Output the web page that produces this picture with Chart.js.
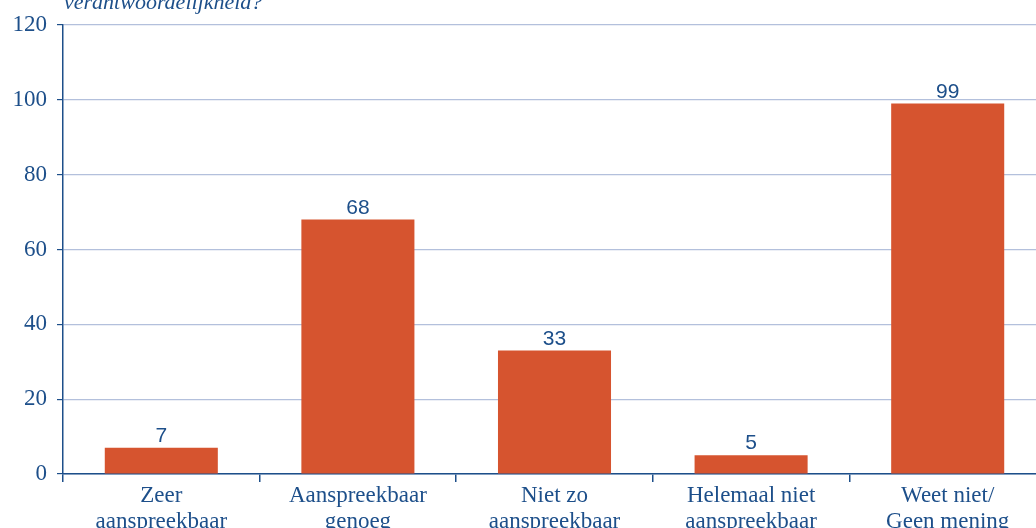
<!DOCTYPE html>
<html>
<head>
<meta charset="utf-8">
<script src="https://cdn.jsdelivr.net/npm/chart.js"></script>
<style>
  html, body { margin: 0; padding: 0; background: #fff; }
  #wrap { width: 1036px; height: 528px; overflow: hidden; }
</style>
</head>
<body>
<div id="wrap"><canvas id="barChart" width="1046" height="528"></canvas></div>
<script>
// categories (two-line labels)
const categories = [
    ['Zeer', 'aanspreekbaar'],
    ['Aanspreekbaar', 'genoeg'],
    ['Niet zo', 'aanspreekbaar'],
    ['Helemaal niet', 'aanspreekbaar'],
    ['Weet niet/', 'Geen mening']
];
const values = [7, 68, 33, 5, 99];
const yTicks = [0, 20, 40, 60, 80, 100, 120];
const titleText = 'verantwoordelijkheid?';

const blue = '#1d4f8a';
const barColor = '#d6542f';
const gridColor = '#b3c0dc';
const serif = '"Liberation Serif", serif';

// value labels above the bars
const valueLabels = {
    id: 'valueLabels',
    afterDatasetsDraw(chart) {
        const ctx = chart.ctx;
        const meta = chart.getDatasetMeta(0);
        ctx.save();
        ctx.fillStyle = blue;
        ctx.font = '21px "Liberation Sans", sans-serif';
        ctx.textAlign = 'center';
        ctx.textBaseline = 'alphabetic';
        meta.data.forEach((bar, i) => {
            ctx.fillText(String(values[i]), bar.x, bar.y - 6);
        });
        ctx.restore();
    }
};

// cut-off question text at the top
const topText = {
    id: 'topText',
    afterDraw(chart) {
        const ctx = chart.ctx;
        ctx.save();
        ctx.fillStyle = blue;
        ctx.font = 'italic 22px ' + serif;
        ctx.textAlign = 'left';
        ctx.textBaseline = 'alphabetic';
        ctx.fillText(titleText, chart.chartArea.left + 1, 9);
        ctx.restore();
    }
};

new Chart(document.getElementById('barChart'), {
    type: 'bar',
    data: {
        labels: categories,
        datasets: [{
            data: values,
            backgroundColor: barColor,
            borderWidth: 0,
            barPercentage: 0.575,
            categoryPercentage: 1
        }]
    },
    options: {
        responsive: false,
        animation: false,
        layout: { padding: { top: 25, right: 0, left: 0, bottom: 0 } },
        plugins: {
            legend: { display: false },
            title: { display: false },
            tooltip: { enabled: false }
        },
        scales: {
            x: {
                afterFit(scale) { scale.height = 54; },
                grid: {
                    offset: true,
                    drawOnChartArea: false,
                    tickLength: 8,
                    tickColor: blue,
                    lineWidth: 1.5
                },
                border: { color: blue, width: 1.5 },
                ticks: {
                    color: blue,
                    font: { family: serif, size: 23, lineHeight: 1.13 },
                    padding: 1,
                    maxRotation: 0,
                    autoSkip: false
                }
            },
            y: {
                min: 0,
                max: 120,
                afterFit(scale) { scale.width = 63; },
                afterBuildTicks(scale) { scale.ticks = yTicks.map(v => ({ value: v })); },
                grid: {
                    color: gridColor,
                    lineWidth: 1.2,
                    tickLength: 6,
                    tickColor: blue
                },
                border: { color: blue, width: 1.5 },
                ticks: {
                    color: blue,
                    font: { family: serif, size: 23 },
                    padding: 10
                }
            }
        }
    },
    plugins: [valueLabels, topText]
});
</script>
</body>
</html>
